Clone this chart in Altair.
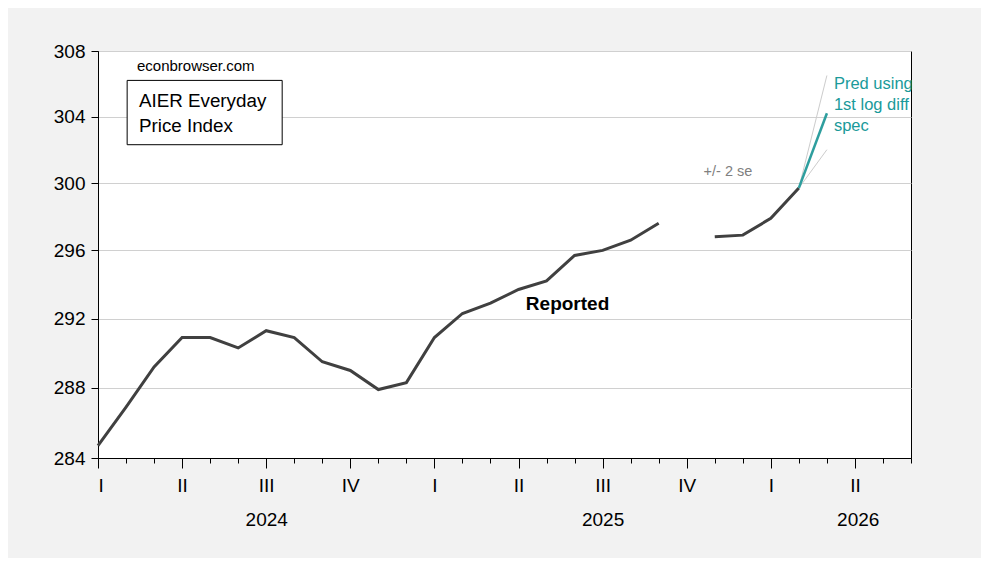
import altair as alt
import pandas as pd

# ---- data (monthly index: 0 = Jan 2024) ----
month_idx = list(range(26))
reported = [284.7, 286.9, 289.2, 290.9, 290.9, 290.3, 291.3, 290.9, 289.5, 289.0,
            287.9, 288.3, 290.9, 292.3, 292.9, 293.7, 294.2, 295.7, 296.0, 296.6,
            297.6, None, 296.8, 296.9, 297.9, 299.7]
segment = [1] * 21 + [0] + [2] * 4

pred_idx = [25, 26]
pred_mid = [299.7, 304.2]
pred_up = [299.7, 306.5]
pred_lo = [299.7, 302.0]

y_ticks = [284, 288, 292, 296, 300, 304, 308]
month_ticks = list(range(30))
quarter_ticks = list(range(0, 30, 3))
quarter_names = ["I", "II", "III", "IV"]
year_pos = [6, 18, 27.1]
year_names = ["2024", "2025", "2026"]

# annotations
box_x = [1.04]; box_x2 = [6.57]; box_y = [306.2]; box_y2 = [302.3]
title_lines = ["AIER Everyday", "Price Index"]
title_x = [1.46, 1.46]; title_y = [304.97, 303.45]
site_text = ["econbrowser.com"]; site_x = [1.39]; site_y = [307.1]
rep_text = ["Reported"]; rep_x = [16.75]; rep_y = [292.86]
se_text = ["+/- 2 se"]; se_x = [21.6]; se_y = [300.68]
pred_lines = ["Pred using", "1st log diff", "spec"]
pred_tx = [26.25, 26.25, 26.25]; pred_ty = [306.0, 304.73, 303.45]

FONT = "Liberation Sans"
XDOM = [0, 29]
xs = alt.Scale(domain=XDOM, nice=False, zero=False)
ys = alt.Scale(type="log", domain=[284, 308], nice=False, zero=False)

df_rep = pd.DataFrame({"m": month_idx, "v": reported, "seg": segment}).dropna()
df_pred = pd.DataFrame({"m": pred_idx * 3,
                        "v": pred_up + pred_lo + pred_mid,
                        "k": ["up"] * 2 + ["lo"] * 2 + ["mid"] * 2})
df_band = df_pred[df_pred.k != "mid"]
df_mid = df_pred[df_pred.k == "mid"]

yaxis = alt.Axis(values=y_ticks, grid=True, gridColor="#d0d0d0", gridWidth=1,
                 tickColor="black", tickSize=7, domainColor="black",
                 labelFont=FONT, labelFontSize=19, labelColor="black",
                 labelPadding=6, title=None)

def Y(field="v:Q"):
    return alt.Y(field, scale=ys, axis=yaxis)

rep_line = alt.Chart(df_rep).mark_line(color="#404040", strokeWidth=3).encode(
    x=alt.X("m:Q", scale=xs, axis=alt.Axis(values=month_ticks, labels=False, grid=False,
                                            tickSize=5, tickColor="black", domainColor="black",
                                            title=None, orient="bottom")),
    y=Y(),
    detail="seg:N",
)

band = alt.Chart(df_band).mark_line(color="#cccccc", strokeWidth=1).encode(
    x=alt.X("m:Q", scale=xs, axis=alt.Axis(values=quarter_ticks, grid=False, tickSize=10,
                                            tickColor="black", domainColor="black",
                                            labelExpr="['I','II','III','IV'][round(datum.value/3)%4]",
                                            labelFont=FONT, labelFontSize=19, labelColor="black",
                                            labelPadding=8, title=None, orient="bottom")),
    y=Y(),
    detail="k:N",
)

mid = alt.Chart(df_mid).mark_line(color="#2e9e9e", strokeWidth=2.5).encode(
    x=alt.X("m:Q", scale=xs, axis=alt.Axis(values=year_pos, grid=False, ticks=False, domain=False,
                                            labelExpr="datum.value < 10 ? '2024' : (datum.value < 20 ? '2025' : '2026')",
                                            labelFont=FONT, labelFontSize=19, labelColor="black",
                                            labelPadding=52, title=None, orient="bottom")),
    y=Y(),
)

def txt(xv, yv, tv, **kw):
    d = pd.DataFrame({"x": xv, "y": yv, "t": tv})
    return alt.Chart(d).mark_text(font=FONT, **kw).encode(
        x=alt.X("x:Q", scale=xs, axis=None),
        y=Y("y:Q"),
        text="t:N",
    )

box = alt.Chart(pd.DataFrame({"x": box_x, "x2": box_x2, "y": box_y, "y2": box_y2})).mark_rect(
    fill="white", stroke="black", strokeWidth=1).encode(
    x=alt.X("x:Q", scale=xs, axis=None), x2="x2:Q",
    y=Y("y:Q"), y2="y2:Q")

layers = [
    rep_line, band, mid, box,
    txt(title_x, title_y, title_lines, align="left", baseline="middle", fontSize=18.8, color="black"),
    txt(site_x, site_y, site_text, align="left", baseline="middle", fontSize=15, color="black"),
    txt(rep_x, rep_y, rep_text, align="center", baseline="middle", fontSize=19, fontWeight="bold", color="black"),
    txt(se_x, se_y, se_text, align="left", baseline="middle", fontSize=14.5, color="#808080"),
    txt(pred_tx, pred_ty, pred_lines, align="left", baseline="middle", fontSize=16.5, color="#1a9a9a"),
]

chart = alt.layer(*layers).resolve_axis(x="independent").properties(
    width=813, height=407,
    autosize=alt.AutoSizeParams(type="none"),
    padding={"left": 90, "top": 43, "right": 70, "bottom": 100},
    background="#f2f2f2",
).configure_view(fill="white", stroke="black", strokeWidth=1)

chart.save("out.html", embed_options={"renderer": "svg", "actions": False})
